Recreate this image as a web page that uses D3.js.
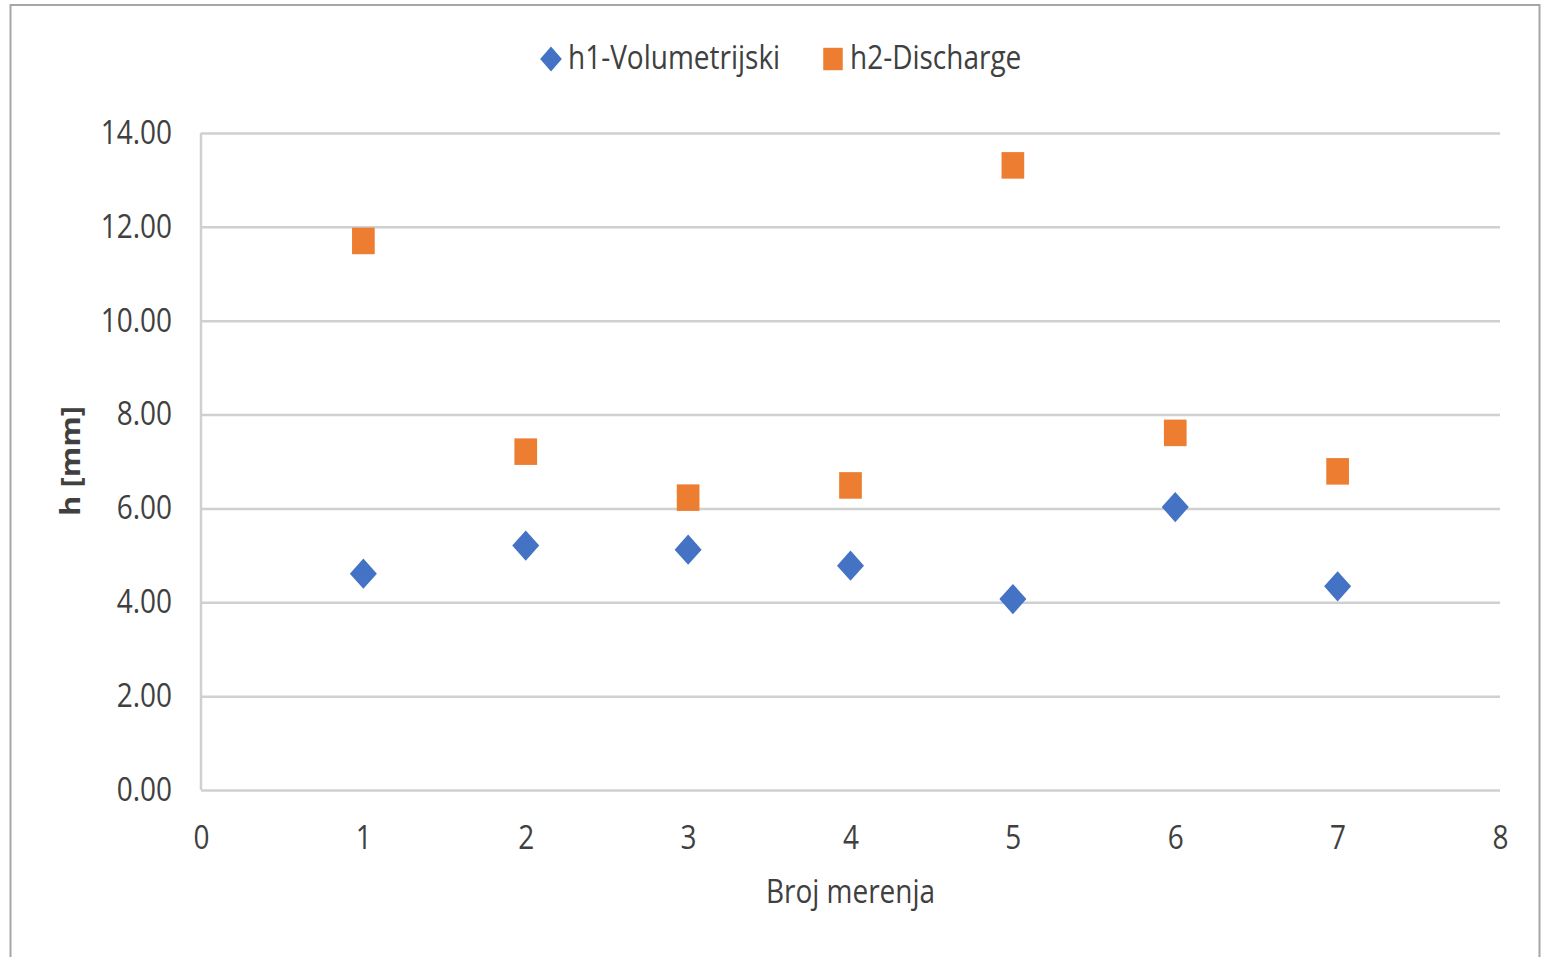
<!DOCTYPE html>
<html lang="en">
<head>
    <meta charset="UTF-8">
    <title>h1 / h2 po merenju</title>
    <style>
        body { margin: 0; background: #fff; }
        text { font-family: "Open Sans", "DejaVu Sans", sans-serif; fill: #404040; }
    </style>
</head>
<body>
    <div id="chart"></div>

    <script src="https://d3js.org/d3.v7.min.js"></script>
    <script type="text/javascript">
// data
const merenja = [1, 2, 3, 4, 5, 6, 7];
const h1Volumetrijski = [4.61, 5.21, 5.12, 4.78, 4.07, 6.03, 4.34];
const h2Discharge = [11.70, 7.21, 6.23, 6.49, 13.31, 7.61, 6.79];
const yTicks = [0, 2, 4, 6, 8, 10, 12, 14];
const xTicks = [0, 1, 2, 3, 4, 5, 6, 7, 8];

const W = 1541, H = 957;
const plotLeft = 201, plotRight = 1500, plotTop = 133, plotBottom = 790;
const stretch = 1.15; // text in the original is a bit taller than wide
const fs = 28;

const svg = d3.select("#chart")
    .append("svg")
    .attr("width", W)
    .attr("height", H);

// outer frame
svg.append("path")
    .attr("d", `M10.5,${H + 5} V5 H1539.5 V${H + 5}`)
    .attr("fill", "none")
    .attr("stroke", "#a6a6a6")
    .attr("stroke-width", 2);

const x = d3.scaleLinear().domain([0, 8]).range([plotLeft, plotRight]);
const y = d3.scaleLinear().domain([0, 14]).range([plotBottom, plotTop]);

// gridlines
svg.append("g")
    .attr("class", "grid")
    .attr("transform", `translate(${plotLeft},0)`)
    .call(d3.axisLeft(y).tickValues(yTicks).tickSize(-(plotRight - plotLeft)).tickFormat(""))
    .call(g => g.select(".domain").remove())
    .call(g => g.selectAll("line").attr("stroke", "#d0d0d0").attr("stroke-width", 2.5));

// left axis line
svg.append("line")
    .attr("x1", plotLeft).attr("x2", plotLeft)
    .attr("y1", plotTop).attr("y2", plotBottom)
    .attr("stroke", "#d0d0d0")
    .attr("stroke-width", 2.5);

// y axis labels
svg.append("g")
    .attr("transform", `translate(${plotLeft},0)`)
    .call(d3.axisLeft(y).tickValues(yTicks).tickSize(0).tickPadding(29).tickFormat(d3.format(".2f")))
    .call(g => g.select(".domain").remove())
    .call(g => g.selectAll("text")
        .attr("font-size", fs)
        .attr("font-family", null)
        .attr("fill", "#404040")
        .attr("transform", `scale(1,${stretch})`));

// x axis labels
svg.append("g")
    .attr("transform", `translate(0,${plotBottom})`)
    .call(d3.axisBottom(x).tickValues(xTicks).tickSize(0).tickPadding(31).tickFormat(d3.format("d")))
    .call(g => g.select(".domain").remove())
    .call(g => g.selectAll("text")
        .attr("font-size", fs)
        .attr("font-family", null)
        .attr("fill", "#404040")
        .attr("transform", `scale(1,${stretch})`));

// axis titles
svg.append("text")
    .attr("transform", `translate(${(plotLeft + plotRight) / 2},903) scale(1,${stretch})`)
    .attr("text-anchor", "middle")
    .attr("font-size", fs)
    .text("Broj merenja");

svg.append("text")
    .attr("transform", `translate(80,461) rotate(-90) scale(${stretch},1)`)
    .attr("text-anchor", "middle")
    .attr("font-size", 27)
    .attr("font-weight", "bold")
    .attr("fill", "#262626")
    .text("h [mm]");

// markers
const diamond = d3.symbol().type(d3.symbolDiamond2).size(465);
const square = d3.symbol().type(d3.symbolSquare).size(515);

svg.append("g")
    .selectAll("path")
    .data(merenja)
    .join("path")
    .attr("d", diamond)
    .attr("transform", (d, i) => `translate(${x(d)},${y(h1Volumetrijski[i])}) scale(1,1.12)`)
    .attr("fill", "#4472c4");

svg.append("g")
    .selectAll("path")
    .data(merenja)
    .join("path")
    .attr("d", square)
    .attr("transform", (d, i) => `translate(${x(d)},${y(h2Discharge[i])}) scale(1,1.17)`)
    .attr("fill", "#ed7d31");

// legend
const legend = [
    { name: "h1-Volumetrijski", color: "#4472c4", sym: d3.symbol().type(d3.symbolDiamond2).size(300), sx: 551, tx: 568 },
    { name: "h2-Discharge", color: "#ed7d31", sym: d3.symbol().type(d3.symbolSquare).size(380), sx: 833, tx: 850 }
];

legend.forEach(function(l) {
    svg.append("path")
        .attr("d", l.sym)
        .attr("transform", `translate(${l.sx},59) scale(1,1.15)`)
        .attr("fill", l.color);
    svg.append("text")
        .attr("transform", `translate(${l.tx},69) scale(1,${stretch})`)
        .attr("font-size", fs)
        .attr("fill", "#333")
        .text(l.name);
});
</script>
</body>
</html>
